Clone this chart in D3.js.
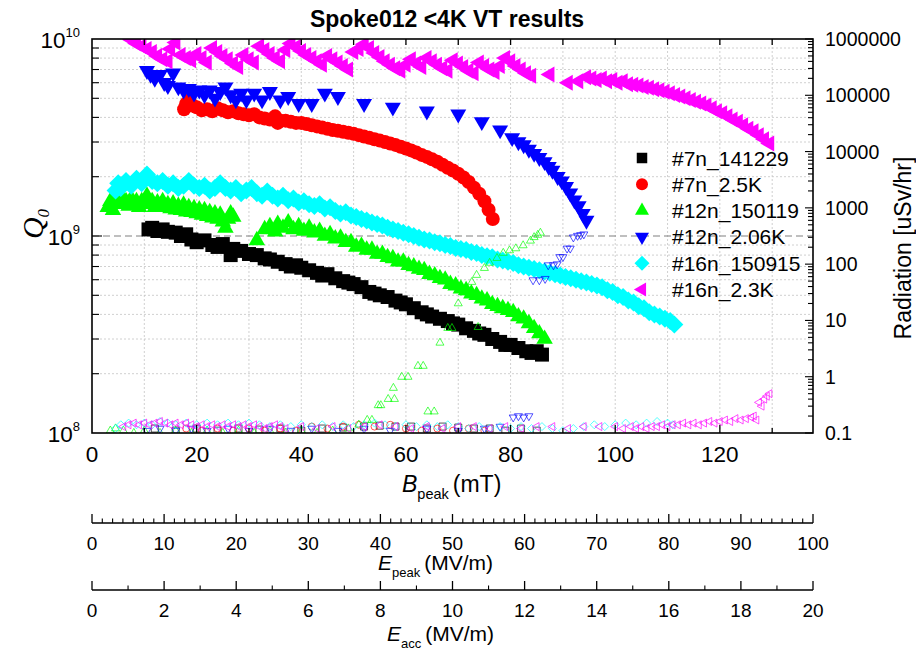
<!doctype html>
<html lang="en">
<head>
<meta charset="utf-8">
<title>Spoke012 &lt;4K VT results</title>
<script src="https://cdnjs.cloudflare.com/ajax/libs/d3/7.8.5/d3.min.js"></script>
<style>
  body { margin: 0; background: #fff; }
  text { font-family: "Liberation Sans", Arial, sans-serif; fill: #000; }
</style>
</head>
<body>
<div id="chart"></div>
<script>
// legend order = plotting order
const seriesNames = ["#7n_141229", "#7n_2.5K", "#12n_150119", "#12n_2.06K", "#16n_150915", "#16n_2.3K"];
const seriesColors = ["#000000", "#ff0000", "#00ff00", "#0000ff", "#00ffff", "#ff00ff"];

// tick labels
const bTicks = [0, 20, 40, 60, 80, 100, 120];
const qDecades = [8, 9, 10];
const radTicks = [0.1, 1, 10, 100, 1000, 10000, 100000, 1000000];
const ePeakTicks = [0, 10, 20, 30, 40, 50, 60, 70, 80, 90, 100];
const eAccTicks = [0, 2, 4, 6, 8, 10, 12, 14, 16, 18, 20];

// Q0 vs Bpeak : [Bpeak mT, Q0 / 1e9]
const q7n141229 = [[10.8,1.08],[11.5,1.1],[12.5,1.06],[13.5,1.08],[14.5,1.05],[16,1.04],[17,1.0],[18,1.02],[19,0.96],[20,0.93],[21.5,0.95],[23,0.9],[24,0.88],[25,0.91],[26.5,0.8],[27,0.86],[28.5,0.84],[30,0.81],[31.5,0.8],[33,0.77],[34,0.76],[35.5,0.74],[37,0.72],[38,0.7],[39,0.71],[40,0.69],[41.5,0.67],[43,0.65],[44,0.63],[45,0.64],[46.5,0.61],[48,0.59],[49,0.58],[50,0.57],[51.5,0.55],[53,0.52],[54,0.51],[55,0.5],[56.5,0.49],[58,0.47],[59,0.46],[60,0.45],[61.5,0.43],[63,0.41],[64,0.4],[65,0.39],[66.5,0.38],[68,0.37],[69,0.36],[70,0.355],[71.5,0.34],[73,0.33],[74,0.32],[75,0.315],[76.5,0.3],[78,0.29],[79,0.28],[80,0.28],[81.5,0.27],[83,0.26],[84,0.255],[85,0.26],[86,0.25]];
const q7n25K = [[17.6,4.4],[18,4.7],[18.6,4.9],[19.2,4.6],[20,4.5],[21,4.35],[22,4.4],[23,4.3],[24,4.45],[25,4.35],[26,4.25],[27,4.3],[28,4.2],[29,4.15],[30,4.1],[31,4.15],[32,4.0],[33,3.95],[34,3.9],[35,4.05],[35.5,3.75],[36,3.85],[37,3.85],[38,3.8],[39,3.75],[40,3.75],[41,3.7],[42,3.65],[43,3.6],[44,3.55],[45,3.5],[46,3.45],[47,3.42],[48,3.38],[49,3.34],[50,3.3],[51,3.25],[52,3.2],[53,3.15],[54,3.1],[55,3.05],[56,3.0],[57,2.95],[58,2.9],[59,2.84],[60,2.78],[61,2.72],[62,2.65],[63,2.58],[64,2.52],[65,2.45],[66,2.38],[67,2.3],[68,2.22],[69,2.15],[70,2.07],[71,1.98],[72,1.88],[73,1.76],[74,1.64],[75,1.5],[75.8,1.36],[76.6,1.22]];
const q12n150119 = [[3,1.4],[3.5,1.5],[4,1.35],[4.5,1.55],[5,1.45],[5.5,1.6],[6,1.45],[6.5,1.5],[7,1.42],[7.5,1.55],[8,1.45],[8.5,1.5],[9,1.4],[9.5,1.5],[10,1.45],[10.5,1.6],[11,1.45],[11.5,1.5],[12,1.4],[12.5,1.48],[13,1.42],[13.5,1.5],[14,1.4],[14.5,1.45],[15,1.38],[15.5,1.46],[16,1.36],[16.5,1.42],[17,1.35],[17.5,1.44],[18,1.33],[18.5,1.4],[19,1.32],[19.5,1.38],[20,1.3],[20.5,1.36],[21,1.28],[21.5,1.35],[22,1.26],[22.5,1.32],[23,1.24],[23.5,1.3],[24,1.22],[24.5,1.28],[25,1.18],[25.5,1.1],[26,1.22],[26.5,1.3],[27,1.25],
  [31.5,0.95],[33,1.08],[34,1.12],[35,1.05],[35.5,1.15],[36.5,1.1],[37.5,1.17],[38.5,1.08],[39.5,1.12],[40.5,1.06],[41.5,1.1],[42.5,1.04],[43.5,1.06],[44.5,1.0],[45.5,1.02],[46.5,0.97],[47.5,0.98],[48.5,0.93],[49.5,0.93],[50.5,0.88],[51.5,0.89],[52.5,0.85],[53.5,0.85],[54.5,0.81],[55.5,0.81],[56.5,0.78],[57.5,0.77],[58.5,0.74],[59.5,0.74],[60.5,0.71],[61.5,0.7],[62.5,0.68],[63.5,0.67],[64.5,0.64],[65.5,0.63],[66.5,0.61],[67.5,0.6],[68.5,0.57],[69.5,0.56],[70.5,0.54],[71.5,0.53],[72.5,0.51],[73.5,0.5],[74.5,0.48],[75.5,0.47],[76.5,0.45],[77.5,0.44],[78.5,0.43],[79.5,0.42],[80.5,0.41],[81.5,0.39],[82.5,0.38],[83.5,0.36],[84.5,0.34],[85.5,0.32],[86.5,0.3]];
const q12n206K = [[10.5,6.9],[11.2,6.6],[12,6.3],[13,6.6],[13.8,6.0],[14.5,5.8],[15.5,6.7],[16.5,5.7],[17.5,5.5],[18.5,5.6],[19.5,5.3],[20.5,5.5],[21.5,5.2],[22.5,5.5],[23.5,5.0],[24.5,5.4],[25.5,5.7],[26.5,5.2],[27.5,4.9],[28.5,5.3],[29.5,4.9],[31,5.3],[32.5,4.9],[34,5.4],[36,4.9],[37.5,5.1],[39.5,4.7],[42,4.7],[44.5,5.3],[47,5.1],[52,4.7],[57.5,4.5],[64,4.3],[70,4.15],[74.5,3.8],[78,3.45],[80.3,3.15],[81.5,3.0],[82.5,2.9],[83.5,2.75],[84.5,2.62],[85.5,2.5],[86.5,2.38],[87.3,2.25],[88,2.15],[89,2.0],[89.8,1.9],[90.6,1.78],[91.4,1.65],[92.2,1.52],[93,1.42],[93.8,1.3],[94.5,1.2]];
const q16n150915 = [[4.5,1.7],[5,1.85],[5.5,1.75],[6.5,1.9],[7.5,1.8],[8.5,1.95],[9.5,1.85],[10.5,2.05],[11.5,1.9],[12.5,1.85],[13.5,1.9],[14.5,1.8],[15.5,1.85],[16.5,1.75],[17.5,1.8],[18.5,1.9],[19.5,1.8],[20.5,1.75],[21.5,1.8],[22.5,1.7],[23.5,1.75],[24.5,1.85],[25.5,1.75],[26.5,1.7],[27.5,1.75],[28.5,1.65],[29.5,1.7],[30.5,1.75],[31.5,1.65],[32.5,1.6],[33.5,1.68],[34.5,1.6],[35.5,1.55],[36.5,1.6],[37.5,1.52],[38.5,1.55],[39.5,1.48],[40.5,1.5],[41.5,1.45],[42.5,1.42],[43.5,1.45],[44.5,1.38],[45.5,1.4],[46.5,1.34],[47.5,1.3],[48.5,1.32],[49.5,1.27],[50.5,1.25],[51.5,1.22],[52.5,1.2],[53.5,1.17],[54.5,1.15],[55.5,1.13],[56.5,1.1],[57.5,1.08],[58.5,1.06],[59.5,1.04],[60.5,1.02],[61.5,1.0],[62.5,0.98],[63.5,0.96],[64.5,0.95],[65.5,0.93],[66.5,0.92],[67.5,0.9],[68.5,0.89],[69.5,0.87],[70.5,0.86],[71.5,0.85],[72.5,0.83],[73.5,0.82],[74.5,0.8],[75.5,0.79],[76.5,0.78],[77.5,0.76],[78.5,0.75],[79.5,0.74],[80.5,0.73],[81.5,0.71],[82.5,0.7],[83.5,0.69],[84.5,0.68],[85.5,0.67],[86.5,0.66],[87.5,0.65],[88.5,0.64],[89.5,0.63],[90.5,0.62],[91.5,0.61],[92.5,0.6],[93.5,0.59],[94.5,0.58],[95.5,0.57],[96.5,0.56],[97.5,0.55],[98.5,0.53],[99.5,0.52],[100.5,0.5],[101.5,0.49],[102.5,0.47],[103.5,0.46],[104.5,0.44],[105.5,0.43],[106.5,0.41],[107.5,0.4],[108.5,0.39],[109.5,0.38],[110.5,0.37],[111.3,0.355]];
const q16n23K = [[6.5,10.5],[7.5,9.9],[8.5,9.5],[9.5,9.2],[10.5,8.9],[11.5,8.6],[12.5,8.2],[13.5,7.9],[14.5,7.7],[15,8.9],[16,9.6],[17,8.3],[18,8.0],[19,7.8],[20,8.4],[21,8.0],[22,7.6],[23,9.0],[24,8.6],[25,8.2],[26,7.9],[27,7.5],[28,7.2],[29,8.3],[30,7.9],[31,7.6],[32,9.2],[33,8.8],[34,8.4],[35,8.0],[36,7.7],[37,8.8],[38,9.5],[39,9.1],[40,8.7],[41,8.3],[42,8.0],[43,7.7],[44,7.4],[45,8.2],[46,7.9],[47,7.6],[48,7.3],[49,7.0],[50,8.6],[51,8.9],[52,9.4],[53,9.0],[54,8.5],[55,8.1],[56,7.7],[57,7.4],[58,7.1],[59,6.9],[60,7.4],[61,7.9],[62,7.5],[63,7.2],[64,8.0],[65,7.7],[66,7.4],[67,7.1],[68,6.9],[69,7.8],[70,7.5],[71,7.2],[72,6.9],[73,6.7],[74,7.6],[75,7.3],[76,7.0],[77,6.8],[78,7.3],[79,8.0],[80,7.7],[81,7.3],[82,7.0],[83,6.7],[84,6.5],[87.5,6.6],[91,6.0],[93,6.1],[94.5,6.4],[95.5,6.3],[96.5,6.2],[97.5,6.3],[98.5,6.1],[99.5,6.2],[100.5,6.0],[101.5,6.1],[102.5,5.9],[103.5,5.85],[104.5,5.8],[105.5,5.7],[106.5,5.65],[107.5,5.55],[108.5,5.5],[109.5,5.4],[110.5,5.3],[111.5,5.2],[112.5,5.1],[113.5,5.0],[114.5,4.9],[115.5,4.8],[116.5,4.7],[117.5,4.6],[118.5,4.45],[119.5,4.3],[120.5,4.2],[121.5,4.05],[122.5,3.9],[123.5,3.8],[124.5,3.65],[125.5,3.5],[126.5,3.4],[127.5,3.25],[128.5,3.1],[129.5,2.95]];

// radiation vs Bpeak : [Bpeak mT, uSv/hr]
const rad7n141229 = [[12,0.12],[16,0.11],[20,0.12],[24,0.11],[28,0.12],[32,0.115],[36,0.12],[40,0.11],[44,0.12],[48,0.125],[52,0.13],[55,0.135],[58,0.13],[61,0.13],[64,0.12],[67,0.13],[70,0.125],[73,0.12],[76,0.12],[79,0.11],[82,0.12],[85,0.11]];
const rad7n25K = [[18,0.12],[21,0.11],[24,0.12],[27,0.11],[30,0.12],[33,0.11],[36,0.12],[39,0.11],[42,0.13],[45,0.12],[48,0.13],[51,0.14],[54,0.13],[57,0.14],[60,0.12],[63,0.11],[66,0.12],[69,0.11],[72,0.12],[75,0.11]];
const rad12n150119 = [[3.5,0.11],[4.5,0.12],[6,0.11],[8,0.1],[10,0.11],[13,0.1],[16,0.11],[19,0.1],[22,0.11],[25,0.1],[28,0.11],[31,0.1],[34,0.11],[37,0.1],[40,0.11],[43,0.1],[46,0.11],[49,0.12],[51,0.14],
  [52.6,0.17],[53.5,0.17],[54.7,0.31],[55.2,0.31],[56.6,0.4],[57.8,0.4],[57.6,0.63],[59.2,0.99],[60.4,0.99],[62.3,1.55],[63.3,1.55],[64.2,0.24],[65.4,0.24],[66.5,4.0],[68,7.3],[68.8,7.3],[70,20],[71,31],[72.6,48],[73.5,64],[73.8,7.6],[75,85],[76,105],[77.4,128],[77.6,15],[78.6,158],[79.8,175],[81,190],[82.4,215],[83.8,260],[84.5,300],[85.2,330],[85.7,360]];
const rad12n206K = [[10.5,0.11],[13,0.12],[16,0.11],[19,0.12],[22,0.11],[26,0.12],[30,0.11],[34,0.12],[38,0.11],[42,0.12],[47,0.11],[52,0.12],[57,0.11],[64,0.12],[70,0.11],[75,0.12],[78,0.13],
  [80.5,0.19],[81.5,0.2],[82.5,0.19],[83.5,0.2],[84.3,52],[85.5,52],[86.6,55],[87.2,96],[88.2,96],[88.9,100],[89.4,134],[90,134],[90.8,190],[91.4,190],[92,300],[92.8,320],[93.4,330],[94,340]];
const rad16n150915 = [[4.5,0.12],[5.5,0.14],[7,0.15],[8.5,0.14],[10,0.15],[11.5,0.14],[13,0.16],[14.5,0.15],[16,0.14],[18,0.15],[20,0.14],[22,0.15],[24,0.14],[26,0.15],[28,0.14],[30,0.15],[32,0.14],[34,0.13],[36,0.14],[38,0.13],[40,0.14],[42,0.13],[44,0.14],[46,0.13],[48,0.14],[50,0.13],[52,0.14],[54,0.15],[56,0.14],[58,0.13],[60,0.14],[62,0.13],[64,0.14],[66,0.13],[68,0.14],[70,0.13],[72,0.12],[74,0.13],[76,0.12],[78,0.13],[80,0.12],[82,0.13],[84,0.12],[86,0.13],[88,0.12],[90,0.11],[92,0.12],[94,0.13],[96,0.14],[98,0.13],[100,0.14],[102,0.15],[104,0.14],[106,0.15],[108,0.16],[110,0.15],[111,0.14]];
const rad16n23K = [[6,0.13],[7,0.14],[8,0.15],[9,0.14],[10,0.15],[11,0.14],[12,0.15],[13,0.16],[14,0.15],[15,0.14],[16,0.15],[17,0.14],[18,0.15],[19,0.14],[20,0.13],[21,0.14],[22,0.13],[23,0.14],[24,0.13],[25,0.14],[26,0.13],[27,0.14],[28,0.13],[29,0.14],[30,0.13],[31,0.14],[32,0.13],[33,0.12],[34,0.13],[35,0.14],[36,0.13],[37,0.12],[40,0.13],[43,0.12],[46,0.13],[49,0.12],[52,0.13],[55,0.14],[58,0.13],[61,0.12],[64,0.13],[67,0.12],[70,0.13],[73,0.13],[76,0.12],[79,0.13],[82,0.12],[85,0.13],[88,0.13],[91,0.12],[94,0.13],[97,0.13],[100,0.13],[101.5,0.12],[103,0.13],[104,0.12],[105,0.13],[106,0.12],[107,0.13],[108,0.13],[109,0.14],[110,0.13],[111,0.14],[112,0.14],[113,0.15],[114,0.14],[115,0.15],[116,0.14],[117,0.15],[118,0.16],[119,0.15],[120,0.16],[121,0.17],[122,0.16],[123,0.18],[124,0.17],[125,0.18],[126,0.19],[126.5,0.2],[127,0.17],[127.5,0.35],[128,0.3],[128.5,0.4],[129,0.45],[129.5,0.5]];

const qSeries = [q7n141229, q7n25K, q12n150119, q12n206K, q16n150915, q16n23K];
const radSeries = [rad7n141229, rad7n25K, rad12n150119, rad12n206K, rad16n150915, rad16n23K];

// marker shapes, s = nominal width in px
const shapes = [
    s => `M${-s/2},${-s/2}h${s}v${s}h${-s}Z`,
    s => d3.symbol(d3.symbolCircle, Math.PI * s * s / 4)(),
    s => { const h = s * 0.87; return `M0,${-h*2/3}L${s/2},${h/3}L${-s/2},${h/3}Z`; },
    s => { const h = s * 0.87; return `M0,${h*2/3}L${s/2},${-h/3}L${-s/2},${-h/3}Z`; },
    s => `M0,${-s/2}L${s/2},0L0,${s/2}L${-s/2},0Z`,
    s => { const h = s * 0.87; return `M${-h*2/3},0L${h/3},${-s/2}L${h/3},${s/2}Z`; }
];
const bigSize = [14, 14, 16.5, 16, 18, 16];
const legSize = [10.5, 12, 14, 14, 15, 14];
const openSize = [7, 7, 8, 8, 8, 8];

const width = 916, height = 648;
const L = 92, R = 813, T = 39, B = 433;

const x = d3.scaleLinear().domain([0, 137.8]).range([L, R]);
const yQ = d3.scaleLog().domain([1e8, 1e10]).range([B, T]);
const yR = d3.scaleLog().domain([0.1, 1e6]).range([B, T]);
const xEpk = d3.scaleLinear().domain([0, 100]).range([L, R]);
const xEacc = d3.scaleLinear().domain([0, 20]).range([L, R]);

const svg = d3.select("#chart").append("svg")
    .attr("width", width)
    .attr("height", height);

svg.append("defs").append("clipPath").attr("id", "plotClip")
    .append("rect").attr("x", L).attr("y", T).attr("width", R - L).attr("height", B - T);

// grid
const qMinor = [];
for (let e = 8; e <= 9; e++) for (let m = 2; m <= 9; m++) qMinor.push(m * Math.pow(10, e));

svg.append("g").selectAll("line")
    .data(d3.range(10, 131, 10))
    .join("line")
    .attr("x1", d => x(d)).attr("x2", d => x(d))
    .attr("y1", T).attr("y2", B)
    .attr("stroke", "#c4c4c4").attr("stroke-width", 0.8).attr("stroke-dasharray", "2,2");

svg.append("g").selectAll("line")
    .data(qMinor)
    .join("line")
    .attr("x1", L).attr("x2", R)
    .attr("y1", d => yQ(d)).attr("y2", d => yQ(d))
    .attr("stroke", "#c4c4c4").attr("stroke-width", 0.8).attr("stroke-dasharray", "2,2");

svg.append("line")
    .attr("x1", L).attr("x2", R)
    .attr("y1", yQ(1e9)).attr("y2", yQ(1e9))
    .attr("stroke", "#808080").attr("stroke-width", 1.2).attr("stroke-dasharray", "7,4");

// data
const plot = svg.append("g").attr("clip-path", "url(#plotClip)");

qSeries.forEach((data, i) => {
    plot.append("g").selectAll("path")
        .data(data)
        .join("path")
        .attr("transform", d => `translate(${x(d[0])},${yQ(d[1] * 1e9)})`)
        .attr("d", shapes[i](bigSize[i]))
        .attr("fill", seriesColors[i]);
});

radSeries.forEach((data, i) => {
    plot.append("g").selectAll("path")
        .data(data)
        .join("path")
        .attr("transform", d => `translate(${x(d[0])},${yR(d[1])})`)
        .attr("d", shapes[i](openSize[i]))
        .attr("fill", "none")
        .attr("stroke", seriesColors[i])
        .attr("stroke-opacity", 0.75)
        .attr("stroke-width", 0.9);
});

// frame
svg.append("rect")
    .attr("x", L).attr("y", T).attr("width", R - L).attr("height", B - T)
    .attr("fill", "none").attr("stroke", "#000").attr("stroke-width", 1.6);

// ticks
function vTicks(vals, scale, y0, len) {
    svg.append("g").selectAll("line").data(vals).join("line")
        .attr("x1", d => scale(d)).attr("x2", d => scale(d))
        .attr("y1", y0).attr("y2", y0 + len)
        .attr("stroke", "#000").attr("stroke-width", 1.3);
}
function hTicks(vals, scale, x0, len) {
    svg.append("g").selectAll("line").data(vals).join("line")
        .attr("y1", d => scale(d)).attr("y2", d => scale(d))
        .attr("x1", x0).attr("x2", x0 + len)
        .attr("stroke", "#000").attr("stroke-width", 1.1);
}

vTicks(d3.range(10, 131, 20), x, B, -5);
vTicks(d3.range(20, 121, 20), x, B, -8);
vTicks(d3.range(10, 131, 10), x, T, 6);

hTicks(qMinor, yQ, L, 7);
hTicks([1e9], yQ, L, 10);

const radMinor = [];
for (let e = -1; e <= 5; e++) for (let m = 2; m <= 9; m++) radMinor.push(m * Math.pow(10, e));
hTicks(radMinor, yR, R, -5);
hTicks(radTicks, yR, R, -8);

// Bpeak labels
svg.append("g").selectAll("text").data(bTicks).join("text")
    .attr("x", d => x(d)).attr("y", 462)
    .attr("text-anchor", "middle")
    .attr("font-size", 22.5)
    .text(d => d);

// Q0 decade labels
const qLab = svg.append("g").selectAll("text").data(qDecades).join("text")
    .attr("x", 80).attr("y", d => yQ(Math.pow(10, d)) + 8.5)
    .attr("text-anchor", "end")
    .attr("font-size", 22.5);
qLab.append("tspan").text("10");
qLab.append("tspan").attr("font-size", 13).attr("dy", -11).text(d => d);

// radiation labels
svg.append("g").selectAll("text").data(radTicks).join("text")
    .attr("x", 825).attr("y", d => yR(d))
    .attr("dy", "0.36em")
    .attr("font-size", 19.5)
    .text(d => d < 1 ? "0.1" : d3.format("d")(d));

// secondary axes
function fieldAxis(scale, vals, minor, y0, labY) {
    const g = svg.append("g");
    g.append("line").attr("x1", L).attr("x2", R).attr("y1", y0).attr("y2", y0)
        .attr("stroke", "#000").attr("stroke-width", 1.4);
    g.selectAll("line.mj").data(vals).join("line").attr("class", "mj")
        .attr("x1", d => scale(d)).attr("x2", d => scale(d))
        .attr("y1", y0).attr("y2", y0 - 9)
        .attr("stroke", "#000").attr("stroke-width", 1.3);
    g.selectAll("line.mn").data(minor).join("line").attr("class", "mn")
        .attr("x1", d => scale(d)).attr("x2", d => scale(d))
        .attr("y1", y0).attr("y2", y0 - 4.5)
        .attr("stroke", "#000").attr("stroke-width", 1.1);
    g.selectAll("text").data(vals).join("text")
        .attr("x", d => scale(d)).attr("y", labY)
        .attr("text-anchor", "middle")
        .attr("font-size", 19)
        .text(d => d);
}
const ePeakMinor = [];
ePeakTicks.slice(0, -1).forEach(v => { for (let k = 1; k < 7; k++) ePeakMinor.push(v + k * 10 / 7); });
fieldAxis(xEpk, ePeakTicks, ePeakMinor, 523, 550);
fieldAxis(xEacc, eAccTicks, d3.range(1, 20, 2), 590, 617);

// axis titles
function subTitle(x0, y0, main, sub, unit, big, small) {
    const t = svg.append("text").attr("x", x0).attr("y", y0).attr("font-size", big);
    t.append("tspan").attr("font-style", "italic").text(main);
    t.append("tspan").attr("font-size", small).attr("dy", 7).text(sub);
    t.append("tspan").attr("dx", 4).attr("dy", -7).text(unit);
}
subTitle(402, 492, "B", "peak", "(mT)", 23, 14.5);
subTitle(378, 570, "E", "peak", "(MV/m)", 21, 13);
subTitle(387, 641, "E", "acc", "(MV/m)", 21, 13);

svg.append("text")
    .attr("x", 447).attr("y", 27)
    .attr("text-anchor", "middle")
    .attr("font-size", 23).attr("font-weight", "bold")
    .text("Spoke012 <4K VT results");

svg.append("text")
    .attr("transform", "translate(911,248) rotate(-90)")
    .attr("text-anchor", "middle")
    .attr("font-size", 23)
    .text("Radiation [uSv/hr]");

const qt = svg.append("text")
    .attr("transform", "translate(43,224) rotate(-90)")
    .attr("text-anchor", "middle")
    .style("font-family", "'Liberation Serif', 'DejaVu Serif', serif")
    .attr("font-size", 30).attr("font-style", "italic");
qt.append("tspan").text("Q");
qt.append("tspan").attr("font-size", 17).attr("dy", 6).text("0");

// legend
const leg = svg.append("g").selectAll("g").data(seriesNames).join("g")
    .attr("transform", (d, i) => `translate(642,${158 + i * 26.3})`);
leg.append("path")
    .attr("d", (d, i) => shapes[i](legSize[i]))
    .attr("fill", (d, i) => seriesColors[i]);
leg.append("text")
    .attr("x", 30).attr("y", 7.5)
    .attr("font-size", 21)
    .text(d => d);
</script>
</body>
</html>
